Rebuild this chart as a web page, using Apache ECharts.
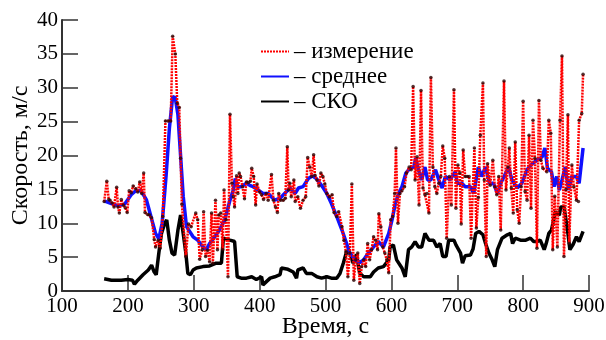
<!DOCTYPE html>
<html>
<head>
<meta charset="utf-8">
<script src="https://cdn.jsdelivr.net/npm/echarts@6/dist/echarts.min.js"></script>
<style>
  html, body { margin: 0; padding: 0; background: #fff; }
  #chart { width: 606px; height: 340px; }
</style>
</head>
<body>
<div id="chart"></div>
<script>
// Wind speed record: [time, s ; value, m/s]
const measurement = [
  [164,13.2],[168,16.2],[171,13.5],[173,13.4],[176,13.0],[179,12.4],[183,15.3],[185,12.4],[187,11.5],
  [190,13.5],[193,12.7],[196,12.3],[199,11.6],[202,14.8],[205,14.5],[208,15.5],[212,15.1],[215,14.6],
  [218,16.1],[221,14.4],[224,17.4],[226,11.6],[230,11.3],[233,11.2],[236,10.8],[240,7.6],[242,6.5],
  [246,7.5],[249,6.3],[253,11.0],[257,25.1],[261,25.1],[265,25.1],[268,37.6],[272,35.0],[275,27.7],
  [278,27.1],[280,19.6],[282,12.8],[288,5.1],[292,9.9],[296,9.5],[303,11.5],[306,10.5],[309,4.7],
  [313,6.1],[315,11.7],[318,5.1],[321,6.0],[324,4.3],[327,11.5],[329,4.1],[333,13.4],[336,6.1],
  [338,11.2],[341,11.5],[344,6.1],[346,14.9],[349,10.5],[352,2.1],[355,26.1],[358,15.9],[360,13.9],
  [362,12.4],[365,17.0],[367,14.4],[369,17.4],[371,16.9],[374,15.4],[377,13.6],[380,16.1],[383,16.0],
  [386,16.2],[388,18.1],[391,16.9],[394,12.7],[396,15.8],[400,14.6],[403,14.2],[406,13.5],[410,14.4],
  [413,13.4],[418,17.2],[421,13.4],[424,12.4],[427,11.6],[429,14.4],[432,13.4],[436,13.4],[439,13.7],
  [442,21.3],[444,14.9],[446,15.9],[448,13.9],[452,16.4],[454,13.2],[458,13.9],[462,12.2],[466,13.4],
  [470,13.9],[473,19.7],[476,18.3],[479,16.9],[482,20.1],[484,17.1],[487,16.4],[490,15.5],[493,17.4],
  [496,16.9],[499,15.8],[502,14.4],[506,13.9],[510,14.2],[513,11.6],[517,11.0],[520,11.7],[525,9.5],
  [528,7.5],[531,5.8],[534,2.1],[537,5.6],[540,15.8],[543,1.6],[546,4.6],[549,5.6],[552,1.1],[555,3.6],
  [558,4.6],[561,3.6],[564,7.0],[567,4.6],[570,6.1],[573,8.0],[576,7.5],[579,6.1],[581,11.4],[584,9.5],
  [587,6.5],[590,5.6],[593,4.6],[596,2.7],[599,10.5],[602,11.0],[605,14.4],[607,21.1],[610,10.0],
  [613,14.4],[616,14.8],[620,15.4],[623,17.4],[627,18.3],[630,17.9],[633,30.2],[636,16.4],[639,19.8],
  [642,12.7],[645,29.6],[648,15.2],[651,14.2],[654,14.4],[657,11.5],[660,31.5],[663,18.3],[666,15.4],
  [669,14.4],[672,15.9],[675,16.9],[678,21.4],[681,19.6],[684,7.8],[688,16.9],[691,12.7],[695,29.7],
  [698,12.2],[701,18.6],[704,17.4],[706,9.9],[709,20.8],[712,16.9],[715,16.9],[718,16.9],[721,7.8],
  [726,21.1],[729,9.3],[732,13.8],[735,23.0],[739,30.7],[741,16.4],[744,5.1],[746,18.8],[750,15.6],
  [754,19.3],[757,15.4],[760,14.2],[763,16.9],[766,9.0],[771,31.0],[774,14.9],[777,18.3],[779,21.1],
  [782,15.2],[785,11.5],[788,22.0],[791,12.0],[794,10.0],[797,15.4],[800,28.0],[803,14.7],[806,13.4],
  [809,23.0],[812,12.2],[815,25.2],[818,19.6],[821,6.3],[824,28.1],[827,19.3],[830,18.1],[836,17.6],
  [839,25.2],[842,23.3],[845,6.1],[848,14.0],[852,6.5],[856,25.2],[859,34.7],[862,5.1],[865,15.0],
  [868,26.0],[870,7.0],[874,18.6],[877,15.4],[881,13.4],[884,13.2],[885,25.2],[889,26.2],[891,32.0]
];

// Running mean
const average = [
  [164,13.3],[175,12.9],[185,12.6],[195,12.8],[205,14.2],[212,14.8],[220,14.8],[228,13.5],[235,11.0],
  [242,8.5],[247,7.7],[252,10.0],[258,17.0],[263,24.0],[268,28.7],[272,28.5],[276,26.0],[280,20.0],
  [284,14.0],[289,9.5],[299,8.0],[306,7.5],[314,6.5],[319,6.1],[324,7.0],[332,8.0],[339,9.0],[347,10.5],
  [355,13.4],[360,14.9],[363,16.6],[367,15.4],[372,15.4],[380,15.9],[385,15.6],[390,15.4],[398,14.9],
  [405,14.4],[413,14.4],[423,13.4],[431,13.7],[438,14.4],[446,15.2],[454,14.4],[459,15.2],[466,15.4],
  [474,16.6],[480,17.0],[486,16.6],[494,15.6],[502,14.4],[509,12.9],[517,11.0],[525,9.0],[531,7.3],
  [537,5.6],[545,4.6],[552,4.2],[558,4.6],[565,5.6],[573,6.5],[580,7.3],[588,6.5],[596,8.5],[601,10.5],
  [606,12.9],[611,14.4],[616,15.4],[622,17.4],[628,18.1],[634,18.3],[637,19.6],[641,17.9],[646,16.4],
  [651,18.3],[655,16.4],[660,16.4],[667,17.9],[672,16.4],[677,15.2],[682,16.9],[689,16.4],[697,17.6],
  [700,15.9],[707,15.9],[712,15.4],[720,15.4],[725,14.4],[732,18.3],[737,16.9],[743,18.3],[749,15.9],
  [755,15.9],[761,14.4],[766,15.9],[772,17.1],[778,18.3],[783,16.4],[791,15.2],[798,15.9],[806,17.9],
  [814,18.8],[821,19.3],[829,19.8],[833,21.1],[837,18.1],[843,17.6],[847,15.4],[851,16.9],[855,14.9],
  [859,16.4],[864,18.3],[869,14.9],[874,16.9],[881,16.9],[885,15.9],[891,21.1]
];

// Running standard deviation (СКО)
const sko = [
  [164,1.8],[175,1.6],[190,1.6],[200,1.7],[207,1.6],[210,1.0],[215,1.6],[223,2.4],[231,3.1],[236,3.8],
  [240,2.8],[243,2.4],[247,5.6],[251,8.5],[256,10.0],[259,10.5],[263,7.5],[267,5.6],[271,5.3],[276,9.0],
  [280,11.2],[284,8.5],[288,5.6],[291,2.6],[295,2.4],[299,3.1],[304,3.4],[314,3.6],[324,3.7],[334,4.1],
  [342,4.1],[345,7.8],[355,7.5],[362,7.3],[366,2.1],[372,1.9],[380,1.9],[388,2.1],[395,1.7],[403,2.1],
  [405,0.9],[408,1.1],[416,1.9],[423,2.1],[431,2.4],[433,3.4],[443,3.2],[451,2.8],[456,1.9],[458,3.1],
  [466,3.4],[471,2.6],[479,2.6],[487,2.1],[494,1.9],[502,2.1],[509,1.9],[517,1.9],[522,2.6],[527,4.1],
  [532,5.8],[537,5.6],[542,4.1],[547,5.4],[552,2.6],[558,2.1],[568,2.1],[573,2.8],[580,3.4],[588,3.6],
  [596,4.6],[598,6.5],[603,6.8],[608,4.6],[616,3.4],[621,2.1],[626,6.1],[631,6.5],[636,7.3],[641,6.5],
  [646,6.5],[651,8.5],[657,7.5],[664,7.5],[669,6.5],[674,7.0],[678,5.1],[683,5.1],[687,7.5],[695,7.5],
  [698,6.8],[705,5.6],[708,4.1],[712,5.2],[720,5.3],[724,6.2],[728,8.5],[733,8.8],[739,8.3],[743,7.0],
  [748,5.6],[753,4.6],[757,3.6],[761,6.1],[768,7.8],[776,8.3],[781,8.5],[784,7.0],[788,7.8],[796,7.5],
  [804,7.5],[811,7.8],[816,7.3],[821,7.3],[826,7.5],[832,6.1],[835,7.0],[839,8.5],[843,9.0],[849,11.7],
  [855,11.2],[857,12.4],[862,12.4],[864,11.2],[868,8.5],[871,6.1],[876,6.9],[881,8.0],[885,7.3],[891,8.8]
];

const xTicks = { min: 100, max: 900, step: 100 };
const yTicks = { min: 0, max: 40, step: 5 };

const serif = 'Liberation Serif';
const axisColor = '#333';

const chart = echarts.init(document.getElementById('chart'), null, { renderer: 'canvas' });

chart.setOption({
  animation: false,
  backgroundColor: '#fff',
  grid: { left: 62, right: 17, top: 20, bottom: 49, containLabel: false, outerBoundsMode: 'none' },
  legend: {
    data: ['измерение', 'среднее', 'СКО'],
    orient: 'vertical',
    left: 255,
    top: 35,
    itemWidth: 28,
    itemHeight: 12,
    itemGap: 2,
    itemStyle: { opacity: 0 },
    formatter: name => '– ' + name,
    textStyle: { fontFamily: serif, fontSize: 23, color: '#000' }
  },
  xAxis: {
    type: 'value',
    min: xTicks.min, max: xTicks.max, interval: xTicks.step,
    name: 'Время, с',
    nameLocation: 'middle',
    nameGap: 24,
    nameMoveOverlap: false,
    nameTextStyle: { fontFamily: serif, fontSize: 24, color: '#000' },
    axisLine: { lineStyle: { color: axisColor, width: 2 } },
    axisTick: { inside: true, length: 16, lineStyle: { color: axisColor, width: 1.5 } },
    axisLabel: { fontFamily: serif, fontSize: 21, color: '#000', margin: 5 },
    splitLine: { show: false }
  },
  yAxis: {
    type: 'value',
    min: yTicks.min, max: yTicks.max, interval: yTicks.step,
    name: 'Скорость, м/с',
    nameLocation: 'middle',
    nameGap: 29,
    nameMoveOverlap: false,
    nameTextStyle: { fontFamily: serif, fontSize: 24, color: '#000' },
    axisLine: { show: true, lineStyle: { color: axisColor, width: 2 } },
    axisTick: { show: true, inside: true, length: 16, lineStyle: { color: axisColor, width: 1.5 } },
    axisLabel: { fontFamily: serif, fontSize: 21, color: '#000', margin: 4 },
    splitLine: { show: false }
  },
  series: [
    {
      name: 'СКО',
      type: 'line',
      data: sko,
      symbol: 'none',
      lineStyle: { color: '#000', width: 3.5 },
      itemStyle: { color: '#000' },
      z: 2
    },
    {
      name: 'среднее',
      type: 'line',
      data: average,
      symbol: 'none',
      lineStyle: { color: '#1010ff', width: 3.5 },
      itemStyle: { color: '#1010ff' },
      z: 3
    },
    {
      name: 'измерение',
      type: 'line',
      data: measurement,
      symbol: 'none',
      lineStyle: { color: '#ff0000', width: 2.5, type: [2, 1] },
      itemStyle: { color: '#ff0000' },
      z: 4
    },
    {
      name: 'точки',
      type: 'scatter',
      data: measurement,
      symbol: 'circle',
      symbolSize: 3.5,
      itemStyle: { color: '#2a0505' },
      z: 5
    }
  ]
});
</script>
</body>
</html>
